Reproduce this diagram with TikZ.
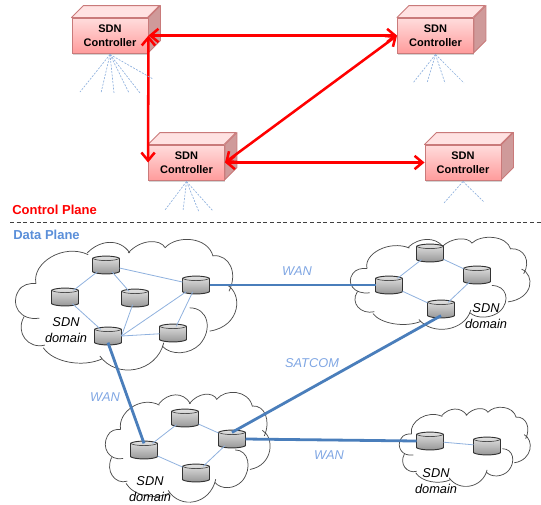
\documentclass[tikz,border=0pt]{standalone}
\usepackage{fontspec}
\setmainfont{Liberation Sans}
\usetikzlibrary{arrows.meta,shadows}

\definecolor{ctrlred}{HTML}{FF0000}
\definecolor{dataBlue}{HTML}{5B8FD9}
\definecolor{wanBlue}{HTML}{4A7EBB}
\definecolor{linkBlue}{HTML}{8FB1DE}
\definecolor{labelBlue}{HTML}{7FA6E3}
\definecolor{ctrlEdge}{HTML}{C97A7A}
\definecolor{ctrlTop}{HTML}{FFDCDC}
\definecolor{ctrlBottom}{HTML}{FF9C9C}
\definecolor{ctrlLid}{HTML}{FFE2E2}
\definecolor{ctrlSide}{HTML}{CF9A9A}

\tikzset{
  ctrlbox/.style={draw=ctrlEdge, line width=0.7pt, top color=ctrlTop, bottom color=ctrlBottom,
    minimum width=57pt, minimum height=26.25pt, inner sep=0pt, align=center,
    font=\fontsize{8.25}{10.5}\selectfont\bfseries,
    drop shadow={shadow xshift=0.6pt, shadow yshift=-1.2pt, opacity=0.35}},
  ctrlface/.style={draw=ctrlEdge, line width=0.7pt, line join=round},
  ctrllink/.style={ctrlred, line width=1.9pt, {Straight Barb[length=6pt,width=10pt,line width=1.9pt]}-{Straight Barb[length=6pt,width=10pt,line width=1.9pt]}},
  fanline/.style={linkBlue, line width=0.5pt, dash pattern=on 1.5pt off 1pt},
  cloudline/.style={draw=black!70, line width=0.55pt},
  disk/.style={minimum width=20.25pt, minimum height=10pt, inner sep=0pt, outer sep=0pt},
  diskbody/.style={draw=black!80, line width=0.7pt, top color=black!10, bottom color=black!42},
  disktop/.style={black!70, line width=0.5pt},
  thinlink/.style={linkBlue, line width=0.6pt},
  wanlink/.style={wanBlue, line width=2.1pt},
  wanlabel/.style={labelBlue, font=\fontsize{9.6}{12}\selectfont\itshape},
  domainlabel/.style={align=center, font=\fontsize{9.6}{12}\selectfont\itshape},
  planelabel/.style={anchor=west, inner sep=0pt, font=\fontsize{9.75}{12}\selectfont\bfseries}
}

% controller box with its two back faces: name, x, y
\newcommand{\sdnctrl}[3]{
  \node[ctrlbox] (#1) at (#2,#3) {SDN\\Controller};
  \draw[ctrlface, fill=ctrlLid] (#1.north west) -- ++(12,-12) -- ++(76,0) -- ++(-12,12) -- cycle;
  \draw[ctrlface, fill=ctrlSide] (#1.north east) -- ++(12,-12) -- ++(0,35) -- ++(-12,12) -- cycle;
}
% disk with the rim of its lid: name, x, y
\newcommand{\sdndisk}[3]{
  \node[disk] (#1) at (#2,#3) {};
  \draw[diskbody] (#1.north west) .. controls +(4,-3) and +(-4,-3) .. (#1.north east)
    -- (#1.south east) .. controls +(-4,3) and +(4,3) .. (#1.south west) -- cycle;
  \draw[disktop] (#1.north west) .. controls +(4,3) and +(-4,3) .. (#1.north east);
}
% cloud outline: x, y of its corner, width, height
\newcommand{\sdncloud}[4]{
  \begin{scope}[shift={(#1,#2)}, xscale=#3/670, yscale=#4/397, shift={(-45,-58)}]
    \draw[cloudline]
      (108,192) .. controls (95,130) and (190,70) .. (265,105)
      (262,100) .. controls (300,60) and (360,55) .. (390,100)
      (385,100) .. controls (420,60) and (480,55) .. (497,85)
      (495,85) .. controls (530,45) and (625,50) .. (640,110)
      (640,108) .. controls (690,105) and (715,160) .. (688,215)
      (680,195) .. controls (730,220) and (725,320) .. (630,335)
      (570,265) .. controls (625,265) and (640,330) .. (600,375)
      .. controls (570,405) and (515,410) .. (487,380)
      (492,370) .. controls (470,460) and (350,480) .. (300,410)
      (308,418) .. controls (250,445) and (160,430) .. (130,385)
      (135,377) .. controls (85,390) and (45,340) .. (72,292)
      (118,296) .. controls (60,305) and (30,255) .. (55,215)
      .. controls (65,195) and (90,190) .. (108,192);
  \end{scope}
}

\begin{document}
\begin{tikzpicture}[x=0.75pt, y=-0.75pt]
    \useasboundingbox (0,0) rectangle (541,504);

    % Controllers
    \sdnctrl{ctrlA}{110}{35.5}
    \sdnctrl{ctrlB}{186.5}{162.5}
    \sdnctrl{ctrlC}{435.5}{35.5}
    \sdnctrl{ctrlD}{463}{162.5}

    % Links between controllers
    \draw[ctrllink] (ctrlA.east) -- (ctrlC.west);
    \draw[ctrllink] (ctrlA.east) -- (ctrlB.west);
    \draw[ctrllink] (ctrlC.west) -- (ctrlB.east);
    \draw[ctrllink] (ctrlB.east) -- (ctrlD.west);

    % Fans below the controllers
    \foreach \ex/\ey in {80/92, 101/93, 114/93, 129/93, 140/93, 153/79}
        \draw[fanline] (ctrlA.south) ++(0,1) -- (\ex,\ey);
    \foreach \ex/\ey in {165/210, 183/211, 199/212, 213/211}
        \draw[fanline] (ctrlB.south) ++(0,1) -- (\ex,\ey);
    \foreach \ex/\ey in {413/83, 427/83, 445/83, 464/83}
        \draw[fanline] (ctrlC.south) ++(0,1) -- (\ex,\ey);
    \foreach \ex/\ey in {444/203, 484/202}
        \draw[fanline] (ctrlD.south) ++(0,1) -- (\ex,\ey);

    % Plane labels and divider
    \node[planelabel, ctrlred] (controlPlane) at (12,210) {Control Plane};
    \node[planelabel, dataBlue] (dataPlane) at (13,235) {Data Plane};
    \coordinate (divA) at (10,222);
    \coordinate (divB) at (541,222);
    \draw[black!75, line width=0.5pt, densely dashed] (divA) -- (divB);

    % Clouds
    \sdncloud{15}{239}{223}{132}
    \sdncloud{105}{392}{166}{111}
    \sdncloud{350}{237}{181}{93}
    \sdncloud{399}{407}{132}{80}

    % Disks of the domains
    \sdndisk{leftA}{106}{265}
    \sdndisk{leftB}{65}{297}
    \sdndisk{leftC}{135}{298}
    \sdndisk{leftD}{196}{285}
    \sdndisk{leftE}{108}{336}
    \sdndisk{leftF}{173}{333}

    \sdndisk{lowA}{144}{450}
    \sdndisk{lowB}{185}{418}
    \sdndisk{lowC}{232}{439}
    \sdndisk{lowD}{196}{473}

    \sdndisk{upA}{389}{285}
    \sdndisk{upB}{430}{253}
    \sdndisk{upC}{477}{275}
    \sdndisk{upD}{441}{309}

    \sdndisk{endA}{430}{441}
    \sdndisk{endB}{487}{446}

    % Links inside the domains
    \draw[thinlink] (leftA) -- (leftB);
    \draw[thinlink] (leftA) -- (leftC);
    \draw[thinlink] (leftA) -- (leftD);
    \draw[thinlink] (leftB) -- (leftE);
    \draw[thinlink] (leftC) -- (leftE.east);
    \draw[thinlink] (leftD) -- (leftE.east);
    \draw[thinlink] (leftE.east) -- (leftF);
    \draw[thinlink] (leftD) -- (leftF);

    \draw[thinlink] (lowA) -- (lowB);
    \draw[thinlink] (lowA) -- (lowD);
    \draw[thinlink] (lowB) -- (lowC);
    \draw[thinlink] (lowD) -- (lowC);

    \draw[thinlink] (upA) -- (upB);
    \draw[thinlink] (upA) -- (upD);
    \draw[thinlink] (upB) -- (upC);
    \draw[thinlink] (upD) -- (upC);

    \draw[thinlink] (endA) -- (endB);

    % WAN and satellite links
    \draw[wanlink] (leftD.east) -- (upA.west);
    \draw[wanlink] (leftE.south) -- (lowA.north);
    \draw[wanlink] (lowC.north) -- (upD.south);
    \draw[wanlink] (lowC.east) -- (endA.west);

    % Link labels
    \node[wanlabel] (wanTop) at (297,271) {WAN};
    \node[wanlabel] (wanLeft) at (105,397) {WAN};
    \node[wanlabel] (satcom) at (312,363) {SATCOM};
    \node[wanlabel] (wanLow) at (329,455) {WAN};

    % Domain labels
    \node[domainlabel] (domLeft) at (66,330) {SDN\\domain};
    \node[domainlabel] (domLow) at (150,489.5) {SDN\\domain};
    \node[domainlabel] (domUp) at (486,316) {SDN\\domain};
    \node[domainlabel] (domEnd) at (436,481) {SDN\\domain};
\end{tikzpicture}
\end{document}
